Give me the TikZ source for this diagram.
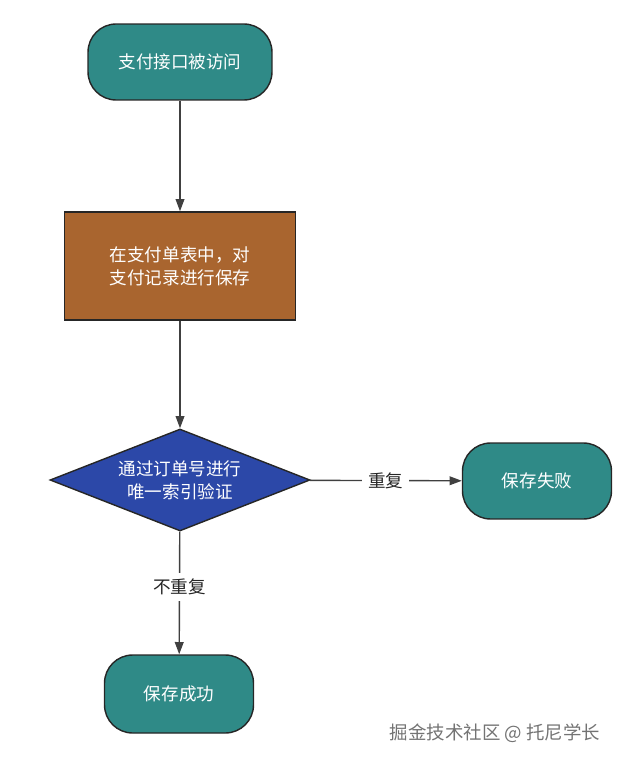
\documentclass[tikz,border=0pt]{standalone}
\usepackage{fontspec}
\setmainfont{Noto Sans CJK SC}
\usetikzlibrary{shapes.geometric,arrows.meta}
\definecolor{tealbox}{HTML}{2F8A87}
\definecolor{brownbox}{HTML}{A9652F}
\definecolor{bluebox}{HTML}{2C48A8}
\begin{document}
\begin{tikzpicture}[x=0.02cm,y=-0.02cm,
        every node/.style={font=\fontsize{10}{13}\selectfont},
        term/.style={draw=black!85,thick,rounded corners=16pt,fill=tealbox,
            text=white,minimum width=3.68cm,minimum height=1.52cm},
        proc/.style={draw=black!85,thick,fill=brownbox,text=white,
            minimum width=4.62cm,minimum height=2.16cm,align=center},
        cond/.style={diamond,draw=black!85,thick,fill=bluebox,text=white,
            align=center,aspect=2.55,inner sep=1pt},
        flow/.style={-{Triangle[length=7pt,width=5pt]},thick,black!75}]
    \useasboundingbox (0,0) rectangle (640,766);

    \node[term] (start) at (180,62) {支付接口被访问};
    \node[proc] (save) at (180,266) {在支付单表中，对\\支付记录进行保存};
    \node[cond,minimum width=5.2cm,minimum height=2.04cm] (check) at (180,480)
        {通过订单号进行\\唯一索引验证};
    \node[term,minimum width=2.98cm] (fail) at (537,481) {保存失败};
    \node[term,minimum width=2.98cm,minimum height=1.56cm] (ok) at (179,694) {保存成功};

    \draw[flow] (start) -- (save);
    \draw[flow] (save) -- (check);
    \draw[flow] (check) -- node[fill=white,text=black!85] {重复} (fail);
    \draw[flow] (check) -- node[fill=white,text=black!85,pos=0.45] {不重复} (ok);

    \node[text=black!55,font=\fontsize{10.5}{13}\selectfont] (mark) at (495,733)
        {掘金技术社区 @ 托尼学长};
\end{tikzpicture}
\end{document}
